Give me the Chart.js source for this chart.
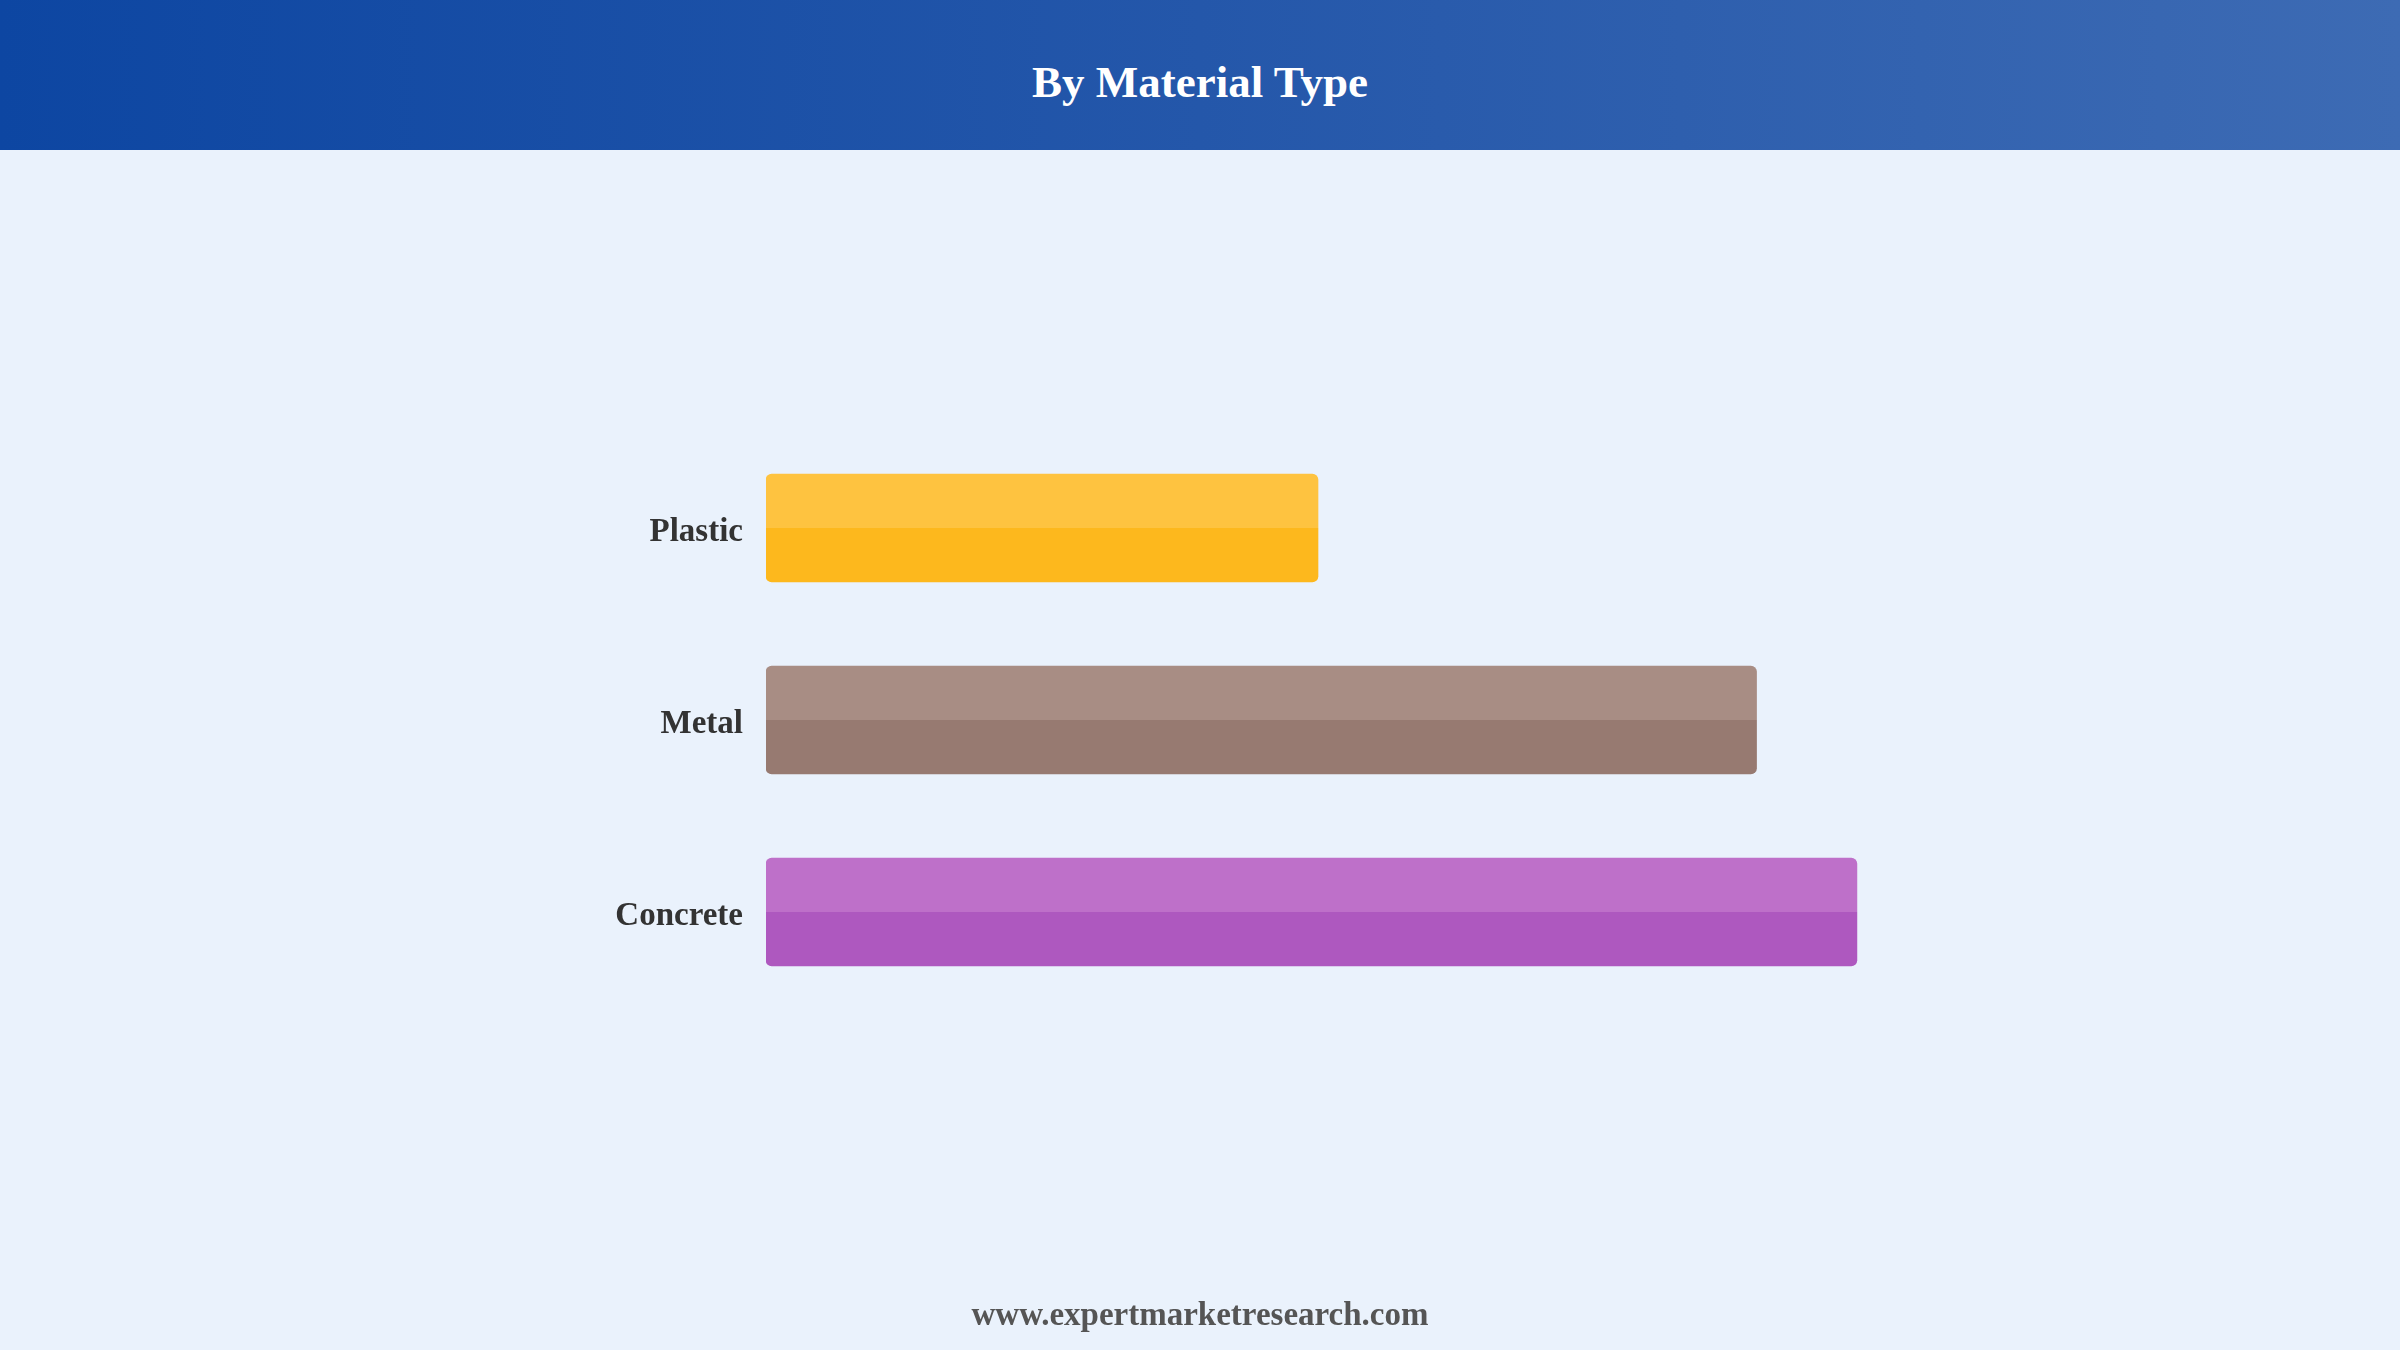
<!DOCTYPE html>
<html lang="en">
<head>
    <meta charset="UTF-8">
    <title>By Material Type</title>
    <script src="https://cdn.jsdelivr.net/npm/chart.js"></script>
    <style>
        html, body { margin: 0; padding: 0; }
        body {
            width: 2400px;
            height: 1350px;
            background: #EAF2FC;
            position: relative;
            overflow: hidden;
            font-family: "Liberation Serif", "Times New Roman", serif;
        }
        .header {
            position: absolute;
            left: 0; top: 0;
            width: 2400px; height: 150px;
            background: linear-gradient(to right, #0D46A2, #2457AA 50%, #3D6BB4);
            color: #fff;
            font-weight: bold;
            font-size: 45px;
            text-align: center;
            line-height: 164px;
        }
        .footer {
            position: absolute;
            left: 0; top: 1296px;
            width: 2400px;
            text-align: center;
            font-weight: bold;
            font-size: 33px;
            color: #555;
        }
        #materialChart {
            position: absolute;
            left: 0; top: 0;
        }
    </style>
</head>
<body>
    <div class="header">By Material Type</div>
    <canvas id="materialChart" width="2400" height="1350"></canvas>
    <div class="footer">www.expertmarketresearch.com</div>

    <script>
        const categories = ['Plastic', 'Metal', 'Concrete'];
        const shareValues = [25.3, 45.4, 50];
        const topColors = ['#FEC340', '#A88D84', '#BE70C9'];
        const bottomColors = ['#FDB81D', '#977A71', '#AE58BF'];

        // two tone bars: lighter upper half, darker lower half
        function barFill(context) {
            const chart = context.chart;
            if (!chart.chartArea || !chart.scales.y) return bottomColors[context.dataIndex];
            const yScale = chart.scales.y;
            const center = yScale.getPixelForValue(context.dataIndex);
            const half = 54;
            const g = chart.ctx.createLinearGradient(0, center - half, 0, center + half);
            g.addColorStop(0, topColors[context.dataIndex]);
            g.addColorStop(0.5, topColors[context.dataIndex]);
            g.addColorStop(0.5, bottomColors[context.dataIndex]);
            g.addColorStop(1, bottomColors[context.dataIndex]);
            return g;
        }

        const ctx = document.getElementById('materialChart').getContext('2d');
        const materialChart = new Chart(ctx, {
            type: 'bar',
            data: {
                labels: categories,
                datasets: [{
                    data: shareValues,
                    backgroundColor: barFill,
                    borderRadius: 6,
                    borderSkipped: false,
                    barThickness: 108
                }]
            },
            options: {
                indexAxis: 'y',
                responsive: false,
                animation: false,
                layout: {
                    padding: { left: 0, right: 434, top: 432, bottom: 342 }
                },
                plugins: {
                    legend: { display: false },
                    tooltip: { enabled: false }
                },
                scales: {
                    x: {
                        display: false,
                        min: 0,
                        max: 55
                    },
                    y: {
                        grid: { display: false },
                        border: { display: false },
                        ticks: {
                            color: '#333',
                            padding: 15,
                            labelOffset: 4,
                            font: { family: '"Liberation Serif", "Times New Roman", serif', size: 33, weight: 'bold' }
                        },
                        afterFit: (scale) => { scale.width = 766; }
                    }
                }
            }
        });
    </script>
</body>
</html>
